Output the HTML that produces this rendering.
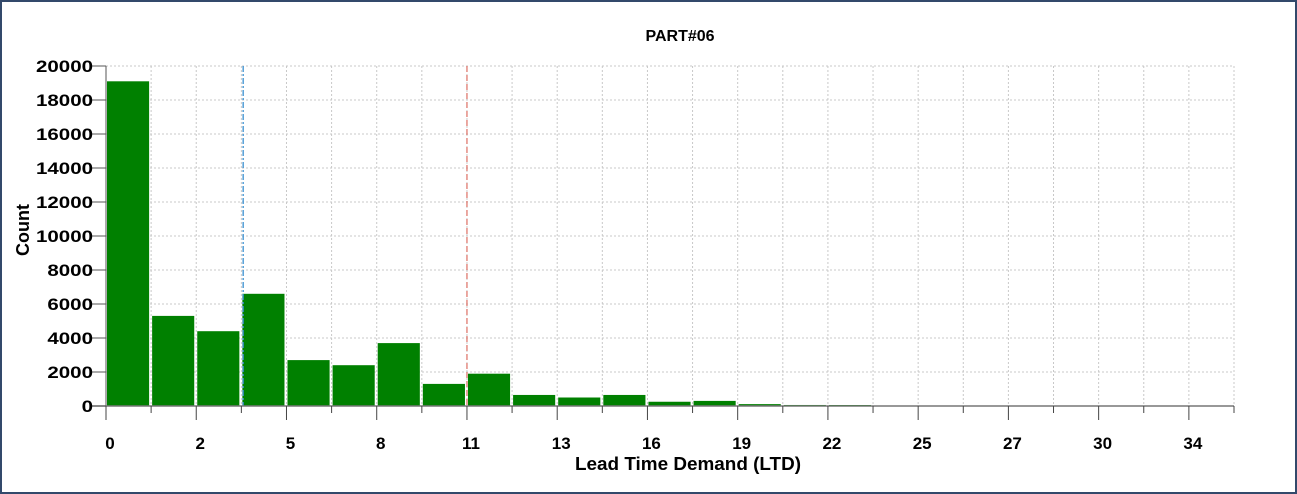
<!DOCTYPE html>
<html><head><meta charset="utf-8"><style>
html,body{margin:0;padding:0;background:#fff}
#frame{position:absolute;left:0;top:0;width:1293px;height:490px;border:2px solid #33496b;background:#fff}
svg{position:absolute;left:0;top:0}
text{font-family:"Liberation Sans",sans-serif;font-weight:bold;fill:#000}
</style></head><body>
<div id="frame"></div>
<svg width="1297" height="494" id="chart"></svg>
<script>
const binLabels=["0","2","5","8","11","13","16","19","22","25","27","30","34"];
const counts=[19100,5300,4400,6600,2700,2400,3700,1300,1900,650,500,650,250,300,110,60,40,0,0,0,0,0,0,0,0];
const yTicks=[0,2000,4000,6000,8000,10000,12000,14000,16000,18000,20000];
const refLines=[3.04,8.0];
const refColors=["#3a8fd0","#e07a70"];
const NS="http://www.w3.org/2000/svg";
const svg=document.getElementById('chart');
const L=106,R=1234,T=66,B=406,nb=counts.length,bw=(R-L)/nb;
const x=i=>L+i*bw, y=v=>B-(v/20000)*(B-T);
function el(t,a,p){const e=document.createElementNS(NS,t);for(const k in a)e.setAttribute(k,a[k]);(p||svg).appendChild(e);return e;}
for(let i=1;i<=nb;i++){const g=el('line',{x1:x(i),x2:x(i),y1:T,y2:B,stroke:'#c8c8c8','stroke-dasharray':'2,2'});

}
yTicks.forEach(v=>{if(v===0)return;const g=el('line',{x1:L,x2:R,y1:y(v),y2:y(v),stroke:'#c8c8c8','stroke-dasharray':'2,2'});

});
counts.forEach((c,i)=>{if(c<=0)return;const h=Math.max(B-y(c),1);const r=el('rect',{x:x(i)+1,y:B-h,width:bw-3,height:h,fill:'#008000'});

});
refLines.forEach((v,k)=>{const l=el('line',{x1:x(v),x2:x(v),y1:T,y2:B,stroke:refColors[k],'stroke-width':1.3,'stroke-dasharray':k?'6,3':'6,2,2,2'});

});
let a=el('line',{x1:L,x2:L,y1:T,y2:B,stroke:'#555'});
a=el('line',{x1:L-14,x2:R,y1:B,y2:B,stroke:'#777','stroke-width':1.5});
yTicks.forEach(v=>{el('line',{x1:L-14,x2:L,y1:y(v),y2:y(v),stroke:'#555'});
const s=String(v);
const t=el('text',{x:L-13,y:y(v)+6,'text-anchor':'end','font-size':17,textLength:s.length*11.4,lengthAdjust:'spacingAndGlyphs'});t.textContent=s;

});
for(let i=0;i<=nb;i++){el('line',{x1:x(i),x2:x(i),y1:B,y2:B+(i%2===0?14:7),stroke:'#444'});}
binLabels.forEach((s,k)=>{const t=el('text',{x:x(2*k)+4,y:449,'text-anchor':'middle','font-size':17});t.textContent=s;

});
let t=el('text',{x:680,y:41,'text-anchor':'middle','font-size':16});t.textContent='PART#06';
t=el('text',{x:688,y:470,'text-anchor':'middle','font-size':18,textLength:226,lengthAdjust:'spacingAndGlyphs'});t.textContent='Lead Time Demand (LTD)';
t=el('text',{x:29,y:230,'text-anchor':'middle','font-size':18,transform:'rotate(-90 29 230)'});t.textContent='Count';
</script>
</body></html>
